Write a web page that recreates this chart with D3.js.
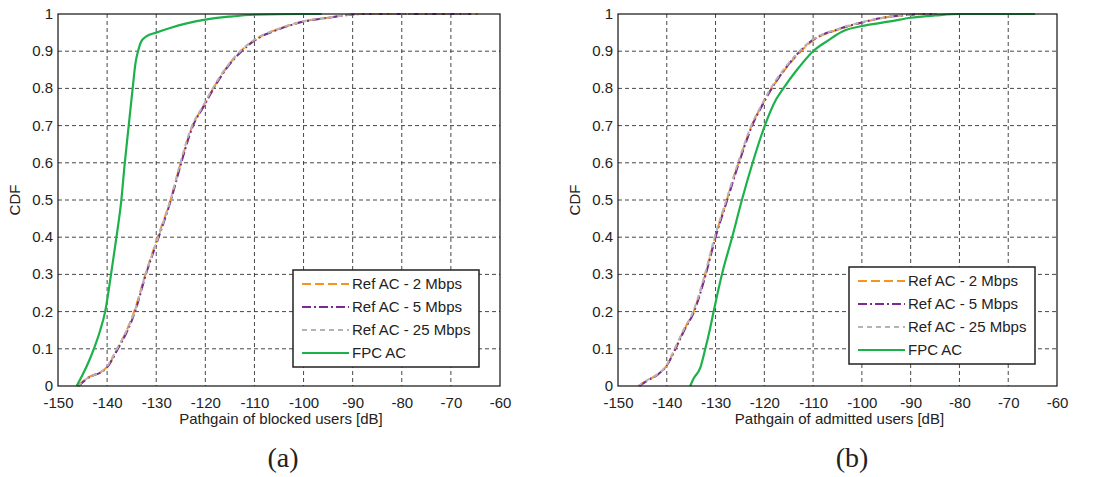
<!DOCTYPE html>
<html>
<head>
<meta charset="utf-8">
<script src="https://cdn.jsdelivr.net/npm/d3@7"></script>
<style>
  body { margin: 0; background: #fff; }
  text { font-family: "Liberation Sans", Arial, sans-serif; fill: #222; }
  .caption { font-family: "Liberation Serif", "Times New Roman", serif; }
</style>
</head>
<body>
<div id="chart"></div>
<script>
// tick values
var xTicks = [-150, -140, -130, -120, -110, -100, -90, -80, -70, -60];
var yTicks = [0, 0.1, 0.2, 0.3, 0.4, 0.5, 0.6, 0.7, 0.8, 0.9, 1];
var seriesNames = ['Ref AC - 2 Mbps', 'Ref AC - 5 Mbps', 'Ref AC - 25 Mbps', 'FPC AC'];

// (a) blocked users, [pathgain dB, CDF]
var blockedRef2 = [[-146,0],[-144.2,0.02],[-140.1,0.05],[-137.9,0.1],[-136,0.15],[-134.5,0.2],[-132.2,0.3],[-129.7,0.4],[-127.1,0.5],[-125,0.6],[-122.6,0.7],[-120.5,0.75],[-118.4,0.8],[-116,0.85],[-112.8,0.9],[-110,0.93],[-105,0.96],[-100,0.98],[-95,0.99],[-88,1],[-64.5,1]];
var blockedRef5 = [[-145.8,0],[-144,0.02],[-140,0.05],[-137.8,0.1],[-135.8,0.15],[-134.3,0.2],[-132.1,0.3],[-129.5,0.4],[-127,0.5],[-124.9,0.6],[-122.5,0.7],[-120.4,0.75],[-118.3,0.8],[-115.9,0.85],[-112.6,0.9],[-109.8,0.93],[-104.8,0.96],[-99.8,0.98],[-95,0.99],[-88,1],[-66,1]];
var blockedRef25 = [[-146,0],[-144.1,0.02],[-140.2,0.05],[-138,0.1],[-136,0.15],[-134.4,0.2],[-132.2,0.3],[-129.6,0.4],[-127.1,0.5],[-125.1,0.6],[-122.7,0.7],[-120.6,0.75],[-118.5,0.8],[-116.1,0.85],[-112.9,0.9],[-110.1,0.93],[-105.2,0.96],[-100.2,0.98],[-95.2,0.99],[-88,1],[-66,1]];
var blockedFpc = [[-146.2,0],[-145,0.03],[-143.6,0.07],[-142.7,0.1],[-141.4,0.15],[-140.4,0.2],[-139.2,0.3],[-138.1,0.4],[-137.1,0.5],[-136.4,0.6],[-135.6,0.7],[-134.8,0.8],[-134.2,0.87],[-133.7,0.9],[-133.1,0.925],[-132,0.94],[-130,0.95],[-127,0.963],[-124,0.974],[-120,0.985],[-115,0.993],[-110,0.998],[-100,1],[-96.3,1]];

// (b) admitted users
var admittedRef2 = [[-145.8,0],[-144,0.015],[-142,0.03],[-140,0.055],[-138.3,0.1],[-136.5,0.15],[-134.5,0.2],[-132.1,0.3],[-130.1,0.4],[-127.7,0.5],[-125.3,0.6],[-124,0.65],[-122.6,0.7],[-120.7,0.75],[-118.5,0.8],[-115.8,0.85],[-112.5,0.9],[-109.9,0.93],[-104.4,0.96],[-99,0.98],[-95.6,0.99],[-90,0.998],[-88,1],[-84.6,1]];
var admittedRef5 = [[-145.6,0],[-143.9,0.015],[-141.9,0.03],[-140,0.055],[-138.2,0.1],[-136.4,0.15],[-134.4,0.2],[-132,0.3],[-130,0.4],[-127.6,0.5],[-125.2,0.6],[-123.9,0.65],[-122.5,0.7],[-120.6,0.75],[-118.5,0.8],[-115.9,0.85],[-112.7,0.9],[-110.1,0.93],[-104.6,0.96],[-99.2,0.98],[-95.6,0.99],[-90,0.998],[-88,1],[-85,1]];
var admittedRef25 = [[-145.9,0],[-144.1,0.015],[-142.1,0.03],[-140.1,0.055],[-138.4,0.1],[-136.6,0.15],[-134.6,0.2],[-132.2,0.3],[-130.2,0.4],[-127.8,0.5],[-125.4,0.6],[-124.1,0.65],[-122.7,0.7],[-120.8,0.75],[-118.7,0.8],[-116.1,0.85],[-112.8,0.9],[-110.2,0.93],[-104.8,0.96],[-99.4,0.98],[-95.8,0.99],[-90,0.998],[-88,1],[-85,1]];
var admittedFpc = [[-135.2,0],[-134.5,0.02],[-133.1,0.05],[-132.1,0.1],[-131.2,0.15],[-130.4,0.2],[-128.7,0.3],[-126.6,0.4],[-124.6,0.5],[-122.4,0.6],[-119.9,0.7],[-117.6,0.77],[-116.1,0.8],[-113.3,0.85],[-110,0.9],[-106.8,0.93],[-104,0.953],[-99,0.97],[-94.2,0.98],[-90,0.99],[-85,0.996],[-80,1],[-64.5,1]];

var styles = [
  {color: '#f7941d', dash: '9,4', width: 2},
  {color: '#7a2a90', dash: '9,3,2,3', width: 2},
  {color: '#b4b4b4', dash: '5,4', width: 2},
  {color: '#1db14b', dash: null, width: 2.2}
];

var svg = d3.select('#chart').append('svg')
    .attr('width', 1103)
    .attr('height', 477);

var drawPanel = function(opts) {
    var x = d3.scaleLinear().domain([-150, -60]).range([opts.left, opts.right]);
    var y = d3.scaleLinear().domain([0, 1]).range([opts.bottom, opts.top]);
    var g = svg.append('g');

    g.append('rect')
        .attr('x', opts.left).attr('y', opts.top)
        .attr('width', opts.right - opts.left).attr('height', opts.bottom - opts.top)
        .style('fill', '#fff');

    // grid
    g.selectAll('.vgrid').data(xTicks.slice(1, -1)).enter().append('line')
        .attr('x1', d => x(d)).attr('x2', d => x(d))
        .attr('y1', opts.top).attr('y2', opts.bottom)
        .style('stroke', '#333').style('stroke-width', 0.9).style('stroke-dasharray', '4,3');
    g.selectAll('.hgrid').data(yTicks.slice(1, -1)).enter().append('line')
        .attr('x1', opts.left).attr('x2', opts.right)
        .attr('y1', d => y(d)).attr('y2', d => y(d))
        .style('stroke', '#333').style('stroke-width', 0.9).style('stroke-dasharray', '4,3');

    // curves
    var line = d3.line().x(d => x(d[0])).y(d => y(d[1])).curve(d3.curveMonotoneX);
    opts.series.forEach((s, i) => {
        g.append('path')
            .attr('d', line(s))
            .style('fill', 'none')
            .style('stroke', styles[i].color)
            .style('stroke-width', styles[i].width)
            .style('stroke-dasharray', styles[i].dash);
    });

    // frame
    g.append('rect')
        .attr('x', opts.left).attr('y', opts.top)
        .attr('width', opts.right - opts.left).attr('height', opts.bottom - opts.top)
        .style('fill', 'none').style('stroke', '#111').style('stroke-width', 1.2);

    // axes
    var xAxis = d3.axisBottom(x).tickValues(xTicks).tickSize(0).tickPadding(11).tickFormat(d => String(d));
    var yAxis = d3.axisLeft(y).tickValues(yTicks).tickSize(0).tickPadding(5).tickFormat(d => d === 0 || d === 1 ? d : d.toFixed(1));
    var xa = g.append('g').attr('transform', 'translate(0,' + opts.bottom + ')').call(xAxis);
    var ya = g.append('g').attr('transform', 'translate(' + opts.left + ',0)').call(yAxis);
    [xa, ya].forEach(a => {
        a.select('.domain').remove();
        a.selectAll('text').style('font-size', '15px').style('font-family', '"Liberation Sans", Arial, sans-serif').attr('fill', '#222');
    });
    ya.selectAll('text').attr('dy', '0.3em');

    // labels
    g.append('text')
        .attr('x', (opts.left + opts.right) / 2 + 2)
        .attr('y', opts.bottom + 38)
        .attr('text-anchor', 'middle')
        .style('font-size', '15px')
        .text(opts.xLabel);
    g.append('text')
        .attr('transform', 'translate(' + (opts.left - 38) + ',' + ((opts.top + opts.bottom) / 2) + ') rotate(-90)')
        .attr('text-anchor', 'middle')
        .style('font-size', '15px')
        .text('CDF');
    g.append('text')
        .attr('class', 'caption')
        .attr('x', opts.captionX)
        .attr('y', 467)
        .attr('text-anchor', 'middle')
        .style('font-size', '28px')
        .text(opts.caption);

    // legend
    var lg = g.append('g').attr('transform', 'translate(' + opts.legend[0] + ',' + opts.legend[1] + ')');
    lg.append('rect')
        .attr('width', 186).attr('height', 97)
        .style('fill', '#fff').style('stroke', '#222').style('stroke-width', 1.5);
    seriesNames.forEach((n, i) => {
        var yy = 14 + i * 23;
        lg.append('line')
            .attr('x1', 9).attr('x2', 56).attr('y1', yy).attr('y2', yy)
            .style('stroke', styles[i].color)
            .style('stroke-width', styles[i].width)
            .style('stroke-dasharray', styles[i].dash);
        lg.append('text')
            .attr('x', 59).attr('y', yy + 5)
            .style('font-size', '15px')
            .text(n);
    });
};

drawPanel({
    left: 58, right: 500, top: 14, bottom: 386,
    series: [blockedRef2, blockedRef5, blockedRef25, blockedFpc],
    xLabel: 'Pathgain of blocked users [dB]',
    caption: '(a)', captionX: 283,
    legend: [293, 270]
});
drawPanel({
    left: 618, right: 1057, top: 14, bottom: 386,
    series: [admittedRef2, admittedRef5, admittedRef25, admittedFpc],
    xLabel: 'Pathgain of admitted users [dB]',
    caption: '(b)', captionX: 852,
    legend: [849, 267]
});
</script>
</body>
</html>
